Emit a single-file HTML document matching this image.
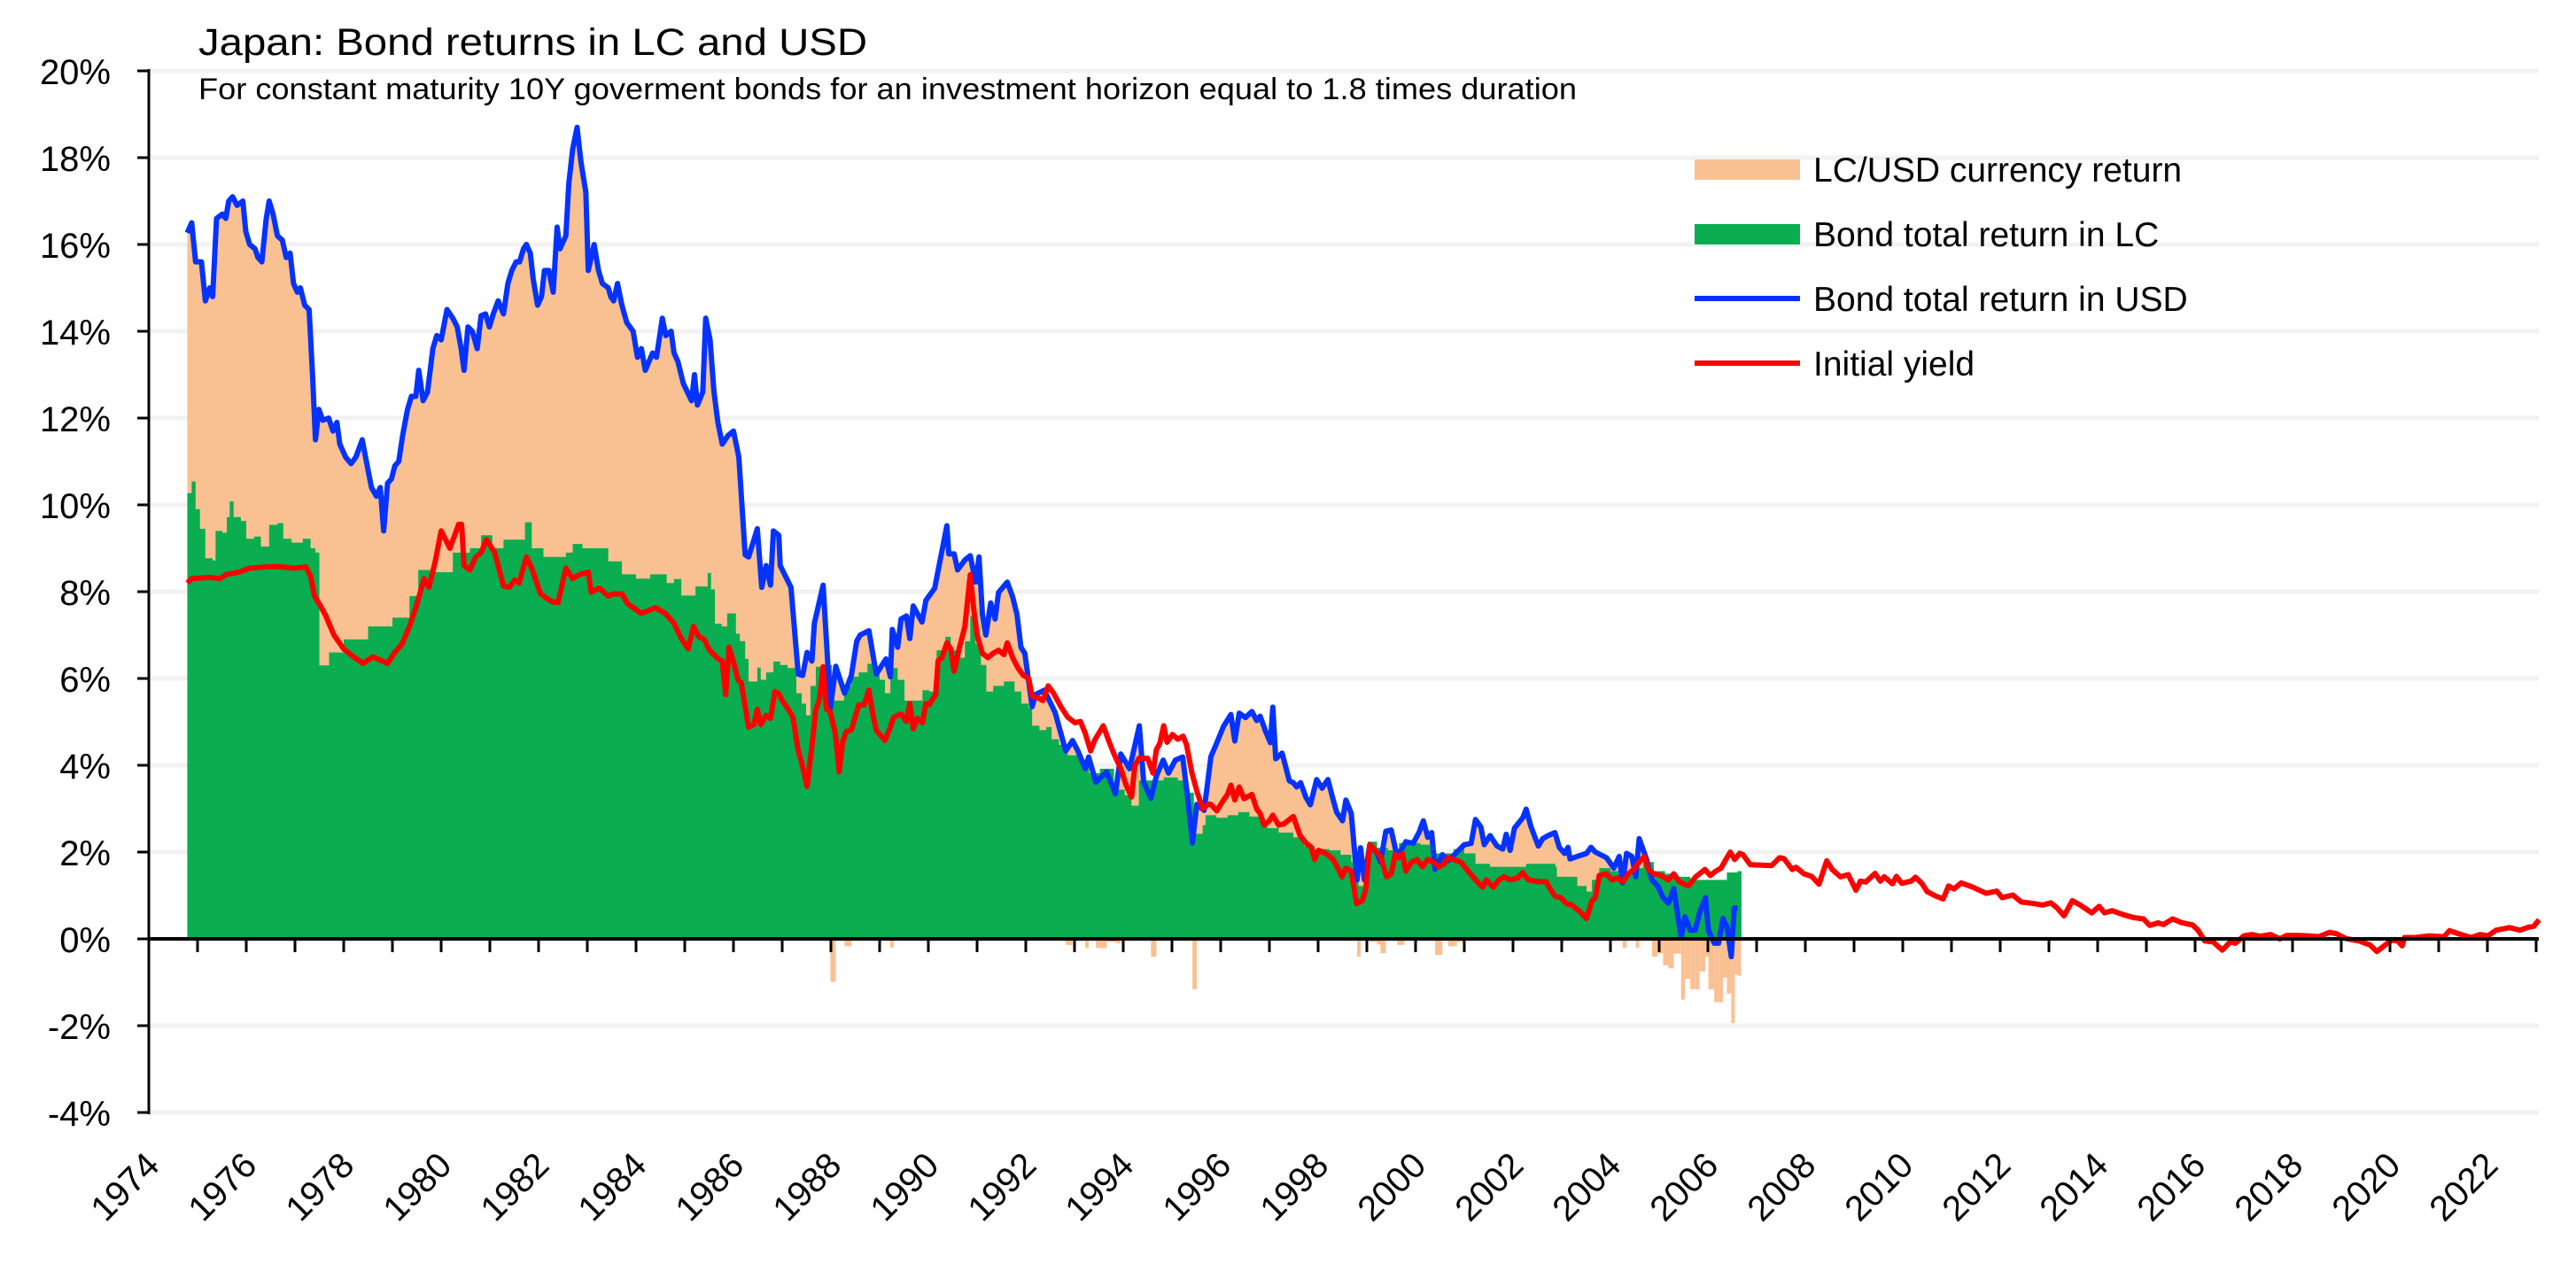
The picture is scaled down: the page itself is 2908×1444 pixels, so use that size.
<!DOCTYPE html>
<html><head><meta charset="utf-8"><style>
html,body{margin:0;padding:0;background:#fff;}
svg{display:block;font-family:"Liberation Sans",sans-serif;}
</style></head><body>
<svg id="chart" width="2908" height="1444" viewBox="0 0 2908 1444" xmlns="http://www.w3.org/2000/svg">
<g id="grid"></g>
<g id="plot"></g>
<g id="axes"></g>
<text x="224" y="62" font-size="43" textLength="755" lengthAdjust="spacingAndGlyphs" fill="#000">Japan: Bond returns in LC and USD</text>
<text x="224" y="112" font-size="34" textLength="1556" lengthAdjust="spacingAndGlyphs" fill="#000">For constant maturity 10Y goverment bonds for an investment horizon equal to 1.8 times duration</text>
<g>
 <g><rect x="1913" y="180" width="119" height="23" fill="#F9C192"/><text x="2047" y="205" font-size="39">LC/USD currency return</text></g>
 <g><rect x="1913" y="253" width="119" height="23" fill="#0AAD4F"/><text x="2047" y="278" font-size="39">Bond total return in LC</text></g>
 <g><rect x="1913" y="334" width="119" height="6" fill="#0433FF"/><text x="2047" y="351" font-size="39">Bond total return in USD</text></g>
 <g><rect x="1913" y="407" width="119" height="6" fill="#FF0000"/><text x="2047" y="424" font-size="39">Initial yield</text></g>
</g>
</svg>
<script>
const usdYears=[1974.79,1974.88,1974.96,1975.08,1975.16,1975.25,1975.31,1975.39,1975.51,1975.58,1975.64,1975.72,1975.81,1975.93,1975.99,1976.07,1976.18,1976.24,1976.32,1976.41,1976.47,1976.55,1976.64,1976.74,1976.82,1976.9,1976.97,1977.05,1977.11,1977.2,1977.29,1977.36,1977.42,1977.49,1977.57,1977.69,1977.78,1977.86,1977.92,1978.04,1978.15,1978.25,1978.38,1978.5,1978.57,1978.67,1978.75,1978.82,1978.9,1978.98,1979.05,1979.13,1979.21,1979.31,1979.39,1979.48,1979.54,1979.63,1979.72,1979.83,1979.91,1980.0,1980.12,1980.24,1980.33,1980.41,1980.47,1980.55,1980.64,1980.74,1980.82,1980.91,1980.99,1981.07,1981.17,1981.28,1981.37,1981.45,1981.54,1981.61,1981.69,1981.75,1981.83,1981.89,1981.98,1982.06,1982.12,1982.21,1982.3,1982.38,1982.44,1982.56,1982.62,1982.7,1982.79,1982.87,1982.97,1983.02,1983.14,1983.23,1983.31,1983.43,1983.48,1983.54,1983.62,1983.71,1983.81,1983.94,1984.03,1984.11,1984.19,1984.34,1984.42,1984.54,1984.61,1984.72,1984.78,1984.86,1984.97,1985.14,1985.2,1985.26,1985.37,1985.43,1985.52,1985.6,1985.68,1985.77,1985.89,1986.0,1986.11,1986.24,1986.31,1986.49,1986.58,1986.67,1986.76,1986.82,1986.93,1986.96,1987.18,1987.33,1987.42,1987.51,1987.61,1987.66,1987.84,1987.99,1988.1,1988.28,1988.42,1988.53,1988.6,1988.78,1988.93,1989.13,1989.22,1989.26,1989.37,1989.44,1989.55,1989.62,1989.69,1989.87,1989.95,1990.13,1990.38,1990.42,1990.53,1990.6,1990.75,1990.86,1990.97,1991.04,1991.11,1991.18,1991.28,1991.37,1991.44,1991.62,1991.73,1991.82,1991.9,1991.98,1992.13,1992.2,1992.38,1992.6,1992.82,1992.96,1993.07,1993.22,1993.29,1993.44,1993.66,1993.84,1993.95,1994.13,1994.33,1994.42,1994.57,1994.68,1994.82,1994.93,1995.07,1995.22,1995.31,1995.42,1995.51,1995.66,1995.8,1995.91,1996.06,1996.21,1996.29,1996.38,1996.51,1996.64,1996.74,1996.81,1996.92,1997.02,1997.07,1997.13,1997.26,1997.41,1997.49,1997.56,1997.64,1997.75,1997.84,1997.97,1998.08,1998.2,1998.31,1998.38,1998.5,1998.57,1998.68,1998.8,1998.87,1998.95,1999.06,1999.21,1999.28,1999.39,1999.5,1999.62,1999.77,1999.8,1999.95,2000.07,2000.16,2000.25,2000.33,2000.4,2000.55,2000.67,2000.85,2001.0,2001.14,2001.23,2001.34,2001.41,2001.53,2001.67,2001.79,2001.86,2001.94,2002.03,2002.2,2002.27,2002.37,2002.52,2002.61,2002.72,2002.86,2002.95,2003.06,2003.13,2003.17,2003.32,2003.51,2003.6,2003.69,2003.92,2004.07,2004.18,2004.25,2004.33,2004.44,2004.52,2004.59,2004.74,2004.85,2004.97,2005.08,2005.19,2005.3,2005.45,2005.53,2005.64,2005.74,2005.83,2005.95,2006.01,2006.13,2006.22,2006.31,2006.39,2006.48,2006.54,2006.61];
const usdValues=[16.27,16.5,15.6,15.6,14.7,15.0,14.8,16.6,16.7,16.6,17.0,17.1,16.9,17.0,16.3,16.0,15.9,15.7,15.6,16.6,17.0,16.7,16.2,16.1,15.7,15.8,15.1,14.9,15.0,14.6,14.5,13.0,11.5,12.2,11.95,12.0,11.7,11.9,11.4,11.1,10.95,11.1,11.5,10.8,10.4,10.2,10.4,9.4,10.5,10.6,10.9,11.0,11.6,12.2,12.5,12.5,13.1,12.4,12.6,13.6,13.9,13.8,14.5,14.3,14.1,13.6,13.1,14.1,14.0,13.6,14.36,14.4,14.1,14.4,14.7,14.4,15.1,15.4,15.6,15.6,15.9,16.0,15.8,15.2,14.6,14.8,15.4,15.4,14.9,16.4,15.9,16.2,17.4,18.2,18.7,17.9,17.2,15.4,16.0,15.4,15.1,15.0,14.8,14.7,15.1,14.6,14.2,14.0,13.4,13.6,13.1,13.5,13.4,14.3,13.9,14.0,13.5,13.3,12.8,12.4,13.0,12.3,12.6,14.3,13.8,12.6,11.9,11.4,11.6,11.7,11.1,8.85,8.8,9.45,8.1,8.6,8.15,9.4,9.3,8.6,8.1,6.1,6.07,6.6,6.4,7.27,8.15,5.32,6.28,5.66,6.07,6.86,7.0,7.1,6.1,6.45,6.04,7.13,6.72,7.37,7.44,6.92,7.67,7.3,7.8,8.08,9.52,8.87,8.87,8.5,8.73,8.83,8.22,8.8,7.47,7.0,7.74,7.37,7.98,8.22,7.88,7.47,6.72,6.58,5.35,5.63,5.73,5.22,4.33,4.57,4.33,3.92,4.19,3.61,3.85,3.34,4.26,3.92,4.91,3.61,3.24,3.75,4.12,3.82,4.12,4.19,3.37,2.21,3.1,2.96,4.2,4.49,4.9,5.17,4.56,5.2,5.1,5.24,5.03,5.13,4.79,4.52,5.34,4.15,4.28,3.64,3.6,3.5,3.6,3.26,3.09,3.67,3.47,3.67,3.2,2.92,2.72,3.2,2.89,1.36,2.1,1.36,2.17,1.97,1.77,2.48,2.51,1.9,2.17,2.24,2.2,2.45,2.72,2.34,2.45,1.6,1.94,1.8,2.0,2.17,2.2,2.75,2.58,2.17,2.38,2.14,2.07,2.41,2.04,2.55,2.79,2.99,2.58,2.14,2.31,2.38,2.45,2.11,1.97,2.11,1.84,1.9,1.97,2.11,2.0,1.87,1.63,1.9,1.29,1.97,1.9,1.43,2.31,1.84,1.36,1.22,0.95,0.82,1.16,0.03,0.51,0.2,0.2,0.61,0.95,0.2,-0.1,-0.1,0.47,0.27,-0.41,0.71,0.71];
const lcYears=[1974.79,1974.88,1974.96,1975.05,1975.16,1975.31,1975.37,1975.51,1975.6,1975.66,1975.74,1975.89,1976.0,1976.16,1976.3,1976.47,1976.64,1976.76,1976.93,1977.16,1977.32,1977.42,1977.5,1977.7,1978.0,1978.5,1979.0,1979.35,1979.53,1979.77,1980.24,1980.59,1980.82,1981.05,1981.28,1981.72,1981.86,1982.1,1982.56,1982.7,1982.9,1983.43,1983.71,1984.0,1984.29,1984.63,1984.78,1984.93,1985.22,1985.47,1985.54,1985.62,1985.76,1985.87,1986.02,1986.05,1986.13,1986.24,1986.31,1986.49,1986.56,1986.67,1986.82,1986.96,1987.11,1987.29,1987.4,1987.49,1987.58,1987.69,1987.8,1988.02,1988.27,1988.42,1988.57,1988.75,1988.86,1989.0,1989.11,1989.22,1989.37,1989.51,1989.66,1989.88,1990.02,1990.17,1990.35,1990.46,1990.6,1990.75,1990.86,1990.97,1991.08,1991.19,1991.33,1991.55,1991.77,1991.91,1992.06,1992.13,1992.28,1992.42,1992.53,1992.68,1992.86,1993.12,1993.3,1993.52,1993.81,1994.03,1994.17,1994.32,1994.54,1994.83,1995.12,1995.3,1995.45,1995.63,1995.69,1995.91,1996.14,1996.36,1996.59,1996.81,1996.96,1997.19,1997.49,1997.71,1997.93,1998.23,1998.46,1998.68,1998.83,1999.02,1999.21,1999.43,1999.66,1999.88,2000.1,2000.33,2000.55,2000.78,2001.0,2001.23,2001.53,2001.82,2002.05,2002.27,2002.57,2002.87,2002.9,2003.17,2003.32,2003.51,2003.62,2003.77,2004.0,2004.22,2004.44,2004.67,2004.89,2005.12,2005.34,2005.64,2005.94,2006.16,2006.39,2006.61];
const lcValues=[10.27,10.54,9.9,9.45,8.77,8.72,9.4,9.36,9.72,10.08,9.72,9.63,9.22,9.27,9.04,9.54,9.58,9.22,9.13,9.22,9.0,8.9,6.3,6.6,6.9,7.2,7.4,7.9,8.5,8.45,8.9,9.0,9.3,9.0,9.2,9.6,9.0,8.8,8.9,9.1,9.0,8.7,8.4,8.3,8.4,8.2,8.29,7.91,8.12,8.43,8.05,7.26,7.2,7.5,7.5,7.03,6.86,6.45,5.93,6.25,5.97,6.14,6.39,6.31,6.24,5.66,5.42,5.15,5.83,6.27,6.31,5.49,5.83,6.04,6.14,6.34,6.14,5.97,5.66,6.24,5.97,5.49,5.49,5.73,5.7,6.65,6.96,6.65,6.48,6.86,7.44,6.79,6.31,5.7,5.83,5.93,5.7,5.42,5.32,4.91,4.81,4.88,4.6,4.47,4.23,4.13,3.82,3.92,3.44,3.31,3.07,3.65,3.65,3.72,3.65,3.37,2.42,2.62,2.85,2.79,2.85,2.92,2.82,2.72,2.55,2.45,2.34,2.14,2.07,2.04,1.94,1.77,1.22,2.24,2.1,2.04,2.21,2.21,2.17,1.97,1.97,2.07,1.97,1.73,1.66,1.66,1.66,1.73,1.73,1.66,1.43,1.43,1.22,1.09,1.36,1.63,1.56,1.5,1.63,1.77,1.56,1.5,1.43,1.36,1.36,1.36,1.53,1.56];
const yieldYears=[1974.79,1974.88,1975.25,1975.45,1975.6,1975.85,1976.07,1976.41,1976.64,1976.99,1977.22,1977.32,1977.4,1977.52,1977.63,1977.8,1978.0,1978.2,1978.4,1978.6,1978.9,1979.05,1979.2,1979.35,1979.5,1979.65,1979.75,1979.88,1980.0,1980.18,1980.36,1980.42,1980.47,1980.59,1980.71,1980.82,1980.93,1981.1,1981.28,1981.4,1981.51,1981.6,1981.75,1981.86,1982.04,1982.27,1982.4,1982.56,1982.7,1982.85,1983.02,1983.08,1983.25,1983.43,1983.55,1983.71,1983.83,1984.11,1984.4,1984.6,1984.78,1984.93,1985.07,1985.18,1985.29,1985.4,1985.51,1985.69,1985.77,1985.84,1985.91,1986.02,1986.09,1986.16,1986.31,1986.42,1986.49,1986.56,1986.67,1986.76,1986.85,1986.93,1987.0,1987.11,1987.22,1987.33,1987.4,1987.51,1987.62,1987.69,1987.76,1987.84,1987.91,1987.98,1988.09,1988.17,1988.24,1988.31,1988.42,1988.57,1988.68,1988.78,1988.86,1988.93,1989.11,1989.22,1989.29,1989.44,1989.55,1989.62,1989.69,1989.77,1989.88,1989.95,1990.02,1990.15,1990.2,1990.28,1990.38,1990.46,1990.53,1990.64,1990.75,1990.86,1990.93,1991.0,1991.11,1991.22,1991.33,1991.44,1991.55,1991.62,1991.73,1991.84,1991.95,1992.06,1992.13,1992.24,1992.35,1992.46,1992.57,1992.72,1992.86,1993.01,1993.12,1993.22,1993.33,1993.41,1993.59,1993.7,1993.81,1993.95,1994.06,1994.17,1994.24,1994.32,1994.5,1994.61,1994.68,1994.75,1994.83,1994.9,1995.01,1995.12,1995.23,1995.3,1995.41,1995.52,1995.63,1995.74,1995.8,1995.92,1996.06,1996.14,1996.21,1996.29,1996.38,1996.48,1996.64,1996.74,1996.81,1996.89,1997.0,1997.07,1997.19,1997.3,1997.49,1997.63,1997.75,1997.86,1997.93,1998.01,1998.16,1998.31,1998.42,1998.49,1998.57,1998.68,1998.79,1998.91,1998.98,1999.06,1999.17,1999.28,1999.41,1999.5,1999.58,1999.65,1999.73,1999.8,1999.92,2000.03,2000.14,2000.25,2000.37,2000.48,2000.59,2000.66,2000.78,2000.93,2001.08,2001.23,2001.38,2001.45,2001.6,2001.71,2001.82,2001.94,2002.09,2002.2,2002.31,2002.5,2002.68,2002.76,2002.87,2002.98,2003.1,2003.21,2003.36,2003.51,2003.62,2003.69,2003.77,2003.92,2004.03,2004.14,2004.25,2004.37,2004.48,2004.59,2004.7,2004.78,2004.89,2005.04,2005.19,2005.3,2005.41,2005.6,2005.75,2005.94,2006.05,2006.16,2006.27,2006.39,2006.46,2006.55,2006.65,2006.72,2006.87,2007.09,2007.31,2007.47,2007.56,2007.73,2007.81,2007.97,2008.13,2008.28,2008.44,2008.55,2008.72,2008.88,2009.04,2009.13,2009.24,2009.43,2009.54,2009.62,2009.79,2009.87,2009.98,2010.17,2010.26,2010.39,2010.5,2010.67,2010.83,2010.94,2011.05,2011.2,2011.44,2011.71,2011.93,2012.04,2012.26,2012.43,2012.65,2012.87,2013.04,2013.17,2013.31,2013.48,2013.64,2013.88,2014.03,2014.14,2014.3,2014.52,2014.74,2014.94,2015.07,2015.24,2015.35,2015.54,2015.73,2015.95,2016.06,2016.2,2016.37,2016.56,2016.72,2016.83,2017.0,2017.16,2017.33,2017.55,2017.74,2017.88,2018.1,2018.32,2018.54,2018.76,2018.9,2019.09,2019.37,2019.59,2019.73,2020.03,2020.16,2020.25,2020.3,2020.52,2020.8,2021.11,2021.22,2021.4,2021.66,2021.85,2022.01,2022.18,2022.45,2022.67,2022.84,2022.95,2023.06];
const yieldValues=[8.2,8.3,8.33,8.3,8.4,8.45,8.54,8.57,8.58,8.54,8.57,8.36,7.9,7.68,7.45,7.0,6.68,6.5,6.35,6.5,6.35,6.6,6.8,7.2,7.7,8.3,8.1,8.7,9.4,9.0,9.55,9.55,8.6,8.5,8.8,8.9,9.2,8.9,8.13,8.1,8.27,8.2,8.8,8.54,7.95,7.77,7.75,8.54,8.3,8.4,8.45,7.99,8.08,7.9,7.95,7.95,7.72,7.5,7.63,7.5,7.27,6.92,6.68,7.2,6.96,6.9,6.65,6.45,6.4,5.63,6.72,6.31,5.97,5.9,4.88,4.94,5.29,4.94,5.15,5.08,5.7,5.65,5.49,5.32,5.11,4.33,4.06,3.51,4.53,5.29,5.49,6.27,5.29,5.25,4.74,3.85,4.53,4.77,4.81,5.39,5.39,5.73,5.18,4.81,4.57,4.88,5.11,5.18,5.01,5.42,4.84,5.08,4.98,5.42,5.4,5.63,6.41,6.48,6.82,6.68,6.17,6.72,7.2,8.39,7.61,7.0,6.58,6.48,6.58,6.65,6.55,6.82,6.48,6.24,6.07,6.0,5.59,5.56,5.49,5.83,5.66,5.35,5.11,4.98,5.01,4.74,4.33,4.57,4.91,4.57,4.26,3.92,3.54,3.27,3.99,4.16,4.16,3.82,4.36,4.5,4.91,4.53,4.71,4.6,4.67,4.47,3.82,3.37,3.0,3.1,3.1,2.95,3.2,3.33,3.54,3.2,3.5,3.23,3.33,2.99,2.89,2.62,2.72,2.85,2.62,2.65,2.82,2.38,2.21,2.11,1.83,2.04,1.97,1.83,1.6,1.43,1.63,1.56,0.81,0.88,1.15,2.17,2.04,1.9,1.43,1.5,1.94,1.87,1.97,1.56,1.77,1.83,1.66,1.83,1.77,1.66,1.73,1.87,1.83,1.77,1.56,1.36,1.19,1.36,1.19,1.36,1.43,1.36,1.4,1.53,1.36,1.32,1.32,1.15,0.98,0.95,0.81,0.78,0.64,0.47,0.88,0.95,1.46,1.5,1.36,1.4,1.32,1.5,1.6,1.77,1.9,1.6,1.5,1.46,1.36,1.5,1.32,1.22,1.43,1.6,1.46,1.56,1.63,1.87,2.0,1.83,1.97,1.94,1.71,1.7,1.69,1.87,1.85,1.6,1.65,1.5,1.44,1.26,1.8,1.6,1.43,1.48,1.12,1.33,1.31,1.51,1.33,1.43,1.27,1.44,1.28,1.33,1.42,1.28,1.09,0.99,0.92,1.22,1.15,1.29,1.19,1.05,1.1,0.95,1.01,0.85,0.82,0.78,0.83,0.71,0.53,0.88,0.78,0.6,0.75,0.6,0.65,0.56,0.49,0.46,0.31,0.37,0.33,0.46,0.37,0.32,0.2,-0.05,-0.07,-0.26,-0.07,-0.1,0.07,0.1,0.06,0.1,0.0,0.08,0.08,0.07,0.05,0.15,0.12,0.01,-0.05,-0.14,-0.29,-0.03,-0.05,-0.16,0.03,0.03,0.07,0.05,0.19,0.12,0.03,0.1,0.07,0.2,0.26,0.2,0.27,0.29,0.44];
const yTicks=[-4,-2,0,2,4,6,8,10,12,14,16,18,20];
const xTickYears=[1974,1976,1978,1980,1982,1984,1986,1988,1990,1992,1994,1996,1998,2000,2002,2004,2006,2008,2010,2012,2014,2016,2018,2020,2022];

const NS='http://www.w3.org/2000/svg';
const X0=168,YR0=1974,PX_YR=55,Y0=1060,PX_PCT=49,XMAX=2866;
function xs(yr){return X0+(yr-YR0)*PX_YR;}
function ys(v){return Y0-v*PX_PCT;}
function mk(tag,attrs,parent){const e=document.createElementNS(NS,tag);for(const k in attrs)e.setAttribute(k,attrs[k]);parent.appendChild(e);return e;}
const grid=document.getElementById('grid'),plot=document.getElementById('plot'),axes=document.getElementById('axes');

yTicks.forEach(v=>{
  if(v!==0){const g=mk('line',{x1:X0,x2:XMAX,y1:ys(v),y2:ys(v),stroke:'#F2F2F2','stroke-width':5},grid);
  
  }
  const t=mk('line',{x1:155,x2:X0,y1:ys(v),y2:ys(v),stroke:'#000','stroke-width':3},axes);
  
  
  const l=mk('text',{x:125,y:ys(v)+15,'font-size':40,'text-anchor':'end',fill:'#000'},axes);
  l.textContent=v+'%';
  
  
});

let d='M'+xs(usdYears[0])+','+ys(0);
usdYears.forEach((yr,i)=>{d+=' L'+xs(yr)+','+ys(Math.max(0,usdValues[i]));});
d+=' L'+xs(usdYears[usdYears.length-1])+','+ys(0)+' Z';
const pa=mk('path',{d:d,fill:'#F9C192'},plot);



let gd='M'+xs(lcYears[0])+','+ys(0);
lcYears.forEach((yr,i)=>{const nx=i<lcYears.length-1?lcYears[i+1]:yr+0.08;gd+=' L'+xs(yr)+','+ys(lcValues[i])+' L'+xs(nx)+','+ys(lcValues[i]);});
gd+=' L'+xs(lcYears[lcYears.length-1]+0.08)+','+ys(0)+' Z';
const ga=mk('path',{d:gd,fill:'#0AAD4F'},plot);



function lcAt(yr){for(let i=lcYears.length-1;i>=0;i--){if(lcYears[i]<=yr)return lcValues[i];}return lcValues[0];}
usdYears.forEach((yr,i)=>{const diff=usdValues[i]-lcAt(yr);if(diff<0){
  const nx=i<usdYears.length-1?usdYears[i+1]:yr+0.07;
  const w=Math.max(4,(nx-yr)*PX_YR);
  const r=mk('rect',{x:xs(yr),y:ys(0),width:w,height:-diff*PX_PCT,fill:'#F9C192'},plot);
  
  }});

function line(yrs,vals,color,name){
  const p=mk('polyline',{points:yrs.map((y,i)=>xs(y)+','+ys(vals[i])).join(' '),fill:'none',stroke:color,'stroke-width':6,'stroke-linejoin':'round'},plot);
  
  
}
line(usdYears,usdValues,'#0433FF','usd-return-line');
line(yieldYears,yieldValues,'#FF0000','initial-yield-line');

const ya=mk('line',{x1:X0,x2:X0,y1:ys(20)-2,y2:ys(-4)+2,stroke:'#000','stroke-width':3},axes);


const xa=mk('line',{x1:X0,x2:XMAX,y1:Y0,y2:Y0,stroke:'#000','stroke-width':4},axes);


for(let yr=1975;yr<=2023;yr++){
  const t=mk('line',{x1:xs(yr),x2:xs(yr),y1:Y0,y2:Y0+15,stroke:'#000','stroke-width':3},axes);
  
  
}
xTickYears.forEach(yr=>{
  const x=xs(yr)+14,y=1318;
  const l=mk('text',{x:x,y:y,'font-size':40,'text-anchor':'end',fill:'#000',transform:'rotate(-45 '+x+' '+y+')'},axes);
  l.textContent=yr;
  
  
});
</script>
</body></html>
